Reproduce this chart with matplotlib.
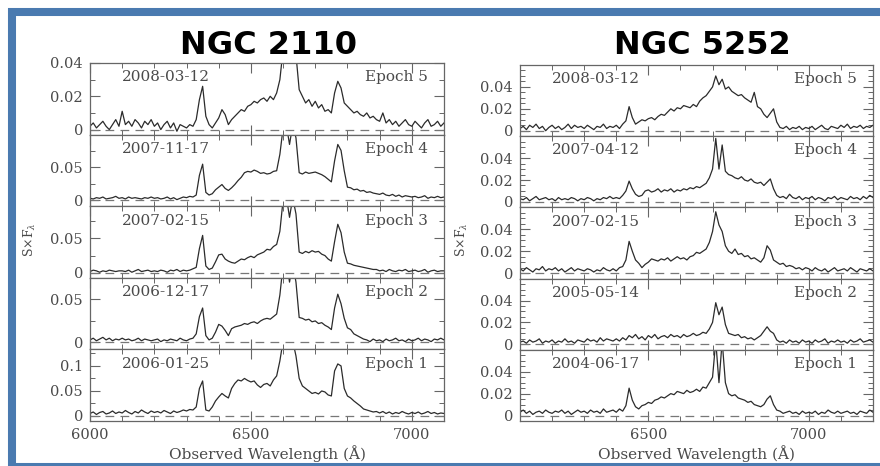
import numpy as np
import matplotlib
matplotlib.use("Agg")
import matplotlib.pyplot as plt
from matplotlib.ticker import MultipleLocator
from matplotlib.patches import Rectangle

# wavelength grids (Angstrom), 10 A steps
wave_2110 = np.arange(6000, 7101, 10)
wave_5252 = np.arange(6100, 7201, 10)

# spectra in units of 1e-3 (epoch 5 at top -> epoch 1 at bottom)
n2110_ep5 = [2, 4, 1, 3, 5, 2, 0, 3, 6, 2,
             11, 3, 5, 2, 6, 4, 1, 5, 3, 6,
             2, 4, 0, 3, 5, 1, 4, -1, 3, 2,
             1, 3, 2, 6, 18, 26, 8, 3, 1, 4,
             7, 12, 9, 3, 6, 8, 10, 12, 11, 14,
             15, 17, 16, 18, 19, 17, 20, 18, 22, 30,
             48, 60, 55, 60, 45, 24, 20, 16, 18, 14,
             17, 13, 15, 11, 12, 10, 22, 29, 25, 16,
             14, 12, 10, 11, 9, 8, 10, 7, 8, 6,
             5, 10, 4, 6, 3, 5, 2, 4, 6, 3,
             2, 5, 3, 1, 4, 6, 2, 3, 5, 2,
             4]
n2110_ep4 = [3, 2, 4, 3, 5, 2, 3, 4, 6, 3,
             4, 2, 5, 3, 4, 3, 2, 4, 3, 5,
             3, 4, 2, 3, 5, 2, 4, 1, 3, 5,
             4, 6, 5, 8, 38, 55, 12, 8, 10, 16,
             20, 24, 18, 15, 19, 24, 30, 35, 42, 44,
             43, 46, 44, 41, 42, 40, 41, 44, 45, 70,
             110, 115, 85, 115, 95, 42, 40, 43, 41, 42,
             43, 41, 39, 36, 32, 28, 60, 85, 76, 45,
             20, 19, 16, 17, 14, 15, 12, 13, 11, 10,
             9, 11, 8, 7, 9, 6, 8, 5, 7, 6,
             5, 6, 4, 5, 7, 3, 5, 4, 6, 4,
             5]
n2110_ep3 = [2, 4, 3, 1, 3, 2, 4, 3, 2, 3,
             3, 2, 4, 1, 3, 5, 2, 3, 4, 2,
             3, 2, 4, 3, 1, 4, 3, 5, 2, 4,
             3, 4, 6, 8, 35, 54, 10, 5, 7, 16,
             26, 27, 20, 17, 15, 14, 17, 20, 19, 22,
             24, 22, 26, 28, 30, 34, 33, 38, 41, 60,
             105, 110, 80, 108, 85, 30, 28, 31, 29, 32,
             30, 31, 27, 25, 20, 17, 45, 70, 58, 30,
             14, 13, 11, 10, 9, 8, 7, 6, 5, 5,
             3, 4, 2, 5, 3, 2, 4, 3, 5, 2,
             3, 4, 2, 3, 5, 1, 3, 4, 2, 3,
             3]
n2110_ep2 = [3, 5, 2, 4, 6, 3, 5, 2, 4, 3,
             5, 3, 4, 2, 3, 5, 2, 4, 3, 2,
             3, 4, 1, 3, 2, 4, 3, 2, 5, 3,
             2, 4, 5, 10, 30, 40, 8, 3, 5, 12,
             21, 19, 14, 8, 16, 18, 19, 20, 22, 21,
             23, 24, 22, 25, 27, 28, 27, 30, 33, 55,
             90, 95, 70, 92, 70, 29, 28, 26, 27, 24,
             25, 22, 23, 20, 18, 15, 40, 56, 45, 28,
             17, 15, 10, 8, 6, 4, 3, 1, 4, 2,
             3, 1, 4, 2, 3, 5, 2, 3, 1, 4,
             2, 3, 5, 2, 4, 3, 1, 4, 3, 5,
             3]
n2110_ep1 = [5, 8, 3, 7, 9, 4, 6, 10, 5, 8,
             6, 11, 7, 4, 9, 6, 12, 8, 5, 10,
             7, 9, 6, 11, 8, 5, 10, 7, 9, 12,
             10, 13, 12, 18, 55, 70, 12, 10, 18, 30,
             38, 45, 40, 36, 55, 65, 72, 70, 75, 71,
             68, 70, 62, 57, 63, 65, 60, 72, 80, 110,
             150, 145, 140, 150, 120, 75, 60, 55, 50, 45,
             47, 44, 50, 48, 42, 40, 90, 104, 100, 55,
             40, 36, 30, 25, 20, 14, 12, 10, 8, 9,
             6, 9, 5, 8, 4, 7, 5, 9, 6, 4,
             7, 5, 8, 4, 6, 9, 5, 7, 4, 6,
             5]

n5252_ep5 = [2, 4, 1, 5, 3, 6, 2, 4, 0, 3,
             5, 2, 4, 1, 3, 6, 2, 5, 3, 4,
             2, 5, 3, 1, 4, 3, 6, 2, 4, 3,
             5, 2, 6, 9, 22, 12, 6, 8, 10, 9,
             11, 12, 10, 13, 15, 14, 17, 20, 18, 21,
             20, 23, 22, 21, 24, 22, 27, 30, 32, 36,
             40, 50, 42, 47, 38, 40, 36, 34, 32, 33,
             30, 28, 26, 35, 22, 20, 15, 12, 16, 20,
             8, 3, 2, 4, 1, 3, 2, 4, 1, 3,
             2, 4, 1, 3, 5, 2, 1, 4, 3, 2,
             5, 3, 6, 2, 4, 3, 5, 2, 4, 3,
             5]
n5252_ep4 = [3, 2, 4, 1, 3, 5, 2, 3, 4, 2,
             3, 1, 4, 2, 3, 2, 4, 3, 1, 3,
             2, 4, 3, 1, 3, 2, 4, 3, 5, 3,
             4, 3, 6, 10, 19, 12, 7, 5, 6, 10,
             11, 9, 10, 12, 9, 11, 10, 12, 9, 11,
             10, 12, 11, 13, 12, 14, 13, 15, 17, 22,
             30, 58, 30, 52, 28, 25, 24, 22, 21, 23,
             20, 19, 21, 18, 17, 18, 15, 18, 21, 12,
             6, 4, 5, 3, 7, 4, 3, 5, 2, 4,
             3, 5, 2, 4, 3, 1, 4, 3, 5, 2,
             4, 3, 2, 5, 3, 4, 2, 5, 3, 6,
             4]
n5252_ep3 = [4, 2, 5, 3, 1, 4, 3, 6, 2, 4,
             3, 5, 2, 4, 1, 3, 5, 2, 4, 3,
             2, 4, 3, 1, 3, 2, 5, 3, 2, 4,
             2, 5, 6, 12, 29, 20, 12, 9, 5, 8,
             10, 13, 12, 11, 13, 12, 14, 11, 13, 15,
             13, 14, 12, 15, 16, 19, 18, 20, 22, 28,
             38, 56, 44, 38, 25, 20, 18, 22, 17, 18,
             15, 16, 13, 14, 12, 10, 14, 25, 21, 12,
             10, 8, 9, 6, 7, 6, 4, 5, 3, 5,
             4, 2, 5, 3, 2, 4, 1, 3, 5, 2,
             3, 4, 2, 5, 3, 1, 4, 3, 2, 4,
             2]
n5252_ep2 = [2, 3, 1, 4, 2, 3, 5, 1, 3, 2,
             4, 1, 3, 2, 5, 2, 3, 1, 4, 3,
             2, 5, 3, 4, 2, 6, 3, 5, 4, 3,
             5, 3, 6, 4, 8, 6, 9, 5, 7, 4,
             8, 6, 9, 5, 7, 8, 6, 9, 7, 8,
             6, 9, 7, 8, 10, 8, 9, 11, 10, 14,
             20, 38, 27, 34, 18, 10, 9, 8, 9, 6,
             7, 5, 6, 4, 6, 8, 12, 16, 12, 10,
             4, 2, 3, 1, 4, 2, 3, 1, 4, 2,
             3, 1, 4, 2, 3, 5, 1, 3, 2, 4,
             2, 3, 1, 4, 2, 3, 5, 2, 3, 4,
             2]
n5252_ep1 = [3, 5, 2, 4, 1, 3, 4, 2, 5, 3,
             2, 4, 3, 5, 2, 4, 1, 3, 5, 3,
             4, 2, 5, 3, 4, 2, 6, 3, 4, 5,
             3, 6, 4, 9, 25, 14, 8, 6, 9, 10,
             12, 11, 14, 15, 17, 16, 18, 20, 19, 22,
             21, 20, 23, 21, 22, 24, 22, 26, 25, 30,
             35, 68, 30, 68, 30, 20, 18, 19, 16, 15,
             14, 12, 13, 10, 9, 8, 10, 15, 18, 10,
             5, 4, 2, 3, 4, 2, 3, 1, 4, 2,
             3, 2, 4, 1, 3, 2, 5, 3, 2, 4,
             2, 3, 4, 2, 3, 1, 4, 3, 2, 5,
             3]

dates_2110 = ["2008-03-12", "2007-11-17", "2007-02-15", "2006-12-17", "2006-01-25"]
dates_5252 = ["2008-03-12", "2007-04-12", "2007-02-15", "2005-05-14", "2004-06-17"]
epochs = ["Epoch 5", "Epoch 4", "Epoch 3", "Epoch 2", "Epoch 1"]

ylims_2110 = [(-0.003, 0.04), (-0.009, 0.1), (-0.007, 0.096), (-0.008, 0.075), (-0.01, 0.133)]
yticks_2110 = [[0, 0.02, 0.04], [0, 0.05], [0, 0.05], [0, 0.05], [0, 0.05, 0.1]]
ylabels_2110 = [["0", "0.02", "0.04"], ["0", "0.05"], ["0", "0.05"], ["0", "0.05"], ["0", "0.05", "0.1"]]
yminor_2110 = [0.01, 0.025, 0.025, 0.025, 0.025]

ylims_5252 = [(-0.005, 0.06)] * 5
yticks_5252 = [[0, 0.02, 0.04]] * 5
ylabels_5252 = [["0", "0.02", "0.04"]] * 5
yminor_5252 = [0.005] * 5

xticks_2110 = [6000, 6500, 7000]
xticks_5252 = [6500, 7000]

fig = plt.figure(figsize=(8.8, 4.66), dpi=100)
plt.rcParams['mathtext.fontset'] = 'dejavuserif'
W, H = 880.0, 466.0
txt = '#4a4a4a'
serif = 'DejaVu Serif'

# blue frame around the slide
fig.patches.append(Rectangle((12 / W, 1 - 467 / H), 872 / W, 455 / H, transform=fig.transFigure,
                             fill=False, edgecolor='#4a7ab0', linewidth=5.8, zorder=0))


def column(left, right, top, bottom, wave, spectra, dates, ylims, yticks, ylabels, yminor,
           xlim, xticks, title, title_x, ylab_x):
    ph = (bottom - top) / 5.0
    axes = []
    for k in range(5):
        y_top = top + k * ph
        ax = fig.add_axes([left / W, 1 - (y_top + ph) / H, (right - left) / W, ph / H])
        flux = np.array(spectra[k]) * 1e-3
        ax.plot(wave, flux, color='#2b2b2b', lw=0.9)
        ax.axhline(0, color='#777777', lw=0.9, ls=(0, (7, 5)))
        ax.set_xlim(*xlim)
        ax.set_ylim(*ylims[k])
        ax.set_yticks(yticks[k])
        ax.set_yticklabels(ylabels[k], family=serif, fontsize=10.5, color=txt)
        ax.yaxis.set_minor_locator(MultipleLocator(yminor[k]))
        ax.set_xticks(xticks)
        ax.xaxis.set_minor_locator(MultipleLocator(100))
        if k < 4:
            ax.set_xticklabels([])
        else:
            ax.set_xticklabels([str(t) for t in xticks], family=serif, fontsize=10.5, color=txt)
        ax.tick_params(which='both', direction='in', top=True, right=True, colors='#666666')
        ax.tick_params(which='major', length=7, width=0.8, pad=5)
        ax.tick_params(which='minor', length=3.5, width=0.7)
        ax.tick_params(axis='x', labelcolor=txt)
        ax.tick_params(axis='y', labelcolor=txt)
        for s in ax.spines.values():
            s.set_color('#666666')
            s.set_linewidth(0.9)
        ax.text(0.09, 0.80, dates[k], transform=ax.transAxes, family=serif, fontsize=11,
                color=txt, va='center', ha='left')
        ax.text(0.955, 0.80, epochs[k], transform=ax.transAxes, family=serif, fontsize=11,
                color=txt, va='center', ha='right')
        axes.append(ax)
    axes[-1].set_xlabel("Observed Wavelength (Å)", family=serif, fontsize=11, color=txt, labelpad=2)
    fig.text(ylab_x / W, 1 - 240 / H, "S×F$_{\\lambda}$", rotation=90, family=serif, fontsize=9,
             color=txt, ha='center', va='center')
    fig.text(title_x / W, 1 - 45 / H, title, family='DejaVu Sans', fontweight='bold', fontsize=23,
             color='black', ha='center', va='center')


column(90, 444, 63, 421, wave_2110, [n2110_ep5, n2110_ep4, n2110_ep3, n2110_ep2, n2110_ep1],
       dates_2110, ylims_2110, yticks_2110, ylabels_2110, yminor_2110,
       (6000, 7100), xticks_2110, "NGC 2110", 268, 30)
column(520, 873, 65, 421, wave_5252, [n5252_ep5, n5252_ep4, n5252_ep3, n5252_ep2, n5252_ep1],
       dates_5252, ylims_5252, yticks_5252, ylabels_5252, yminor_5252,
       (6100, 7200), xticks_5252, "NGC 5252", 702, 462)

plt.savefig("out.png", dpi=100)
